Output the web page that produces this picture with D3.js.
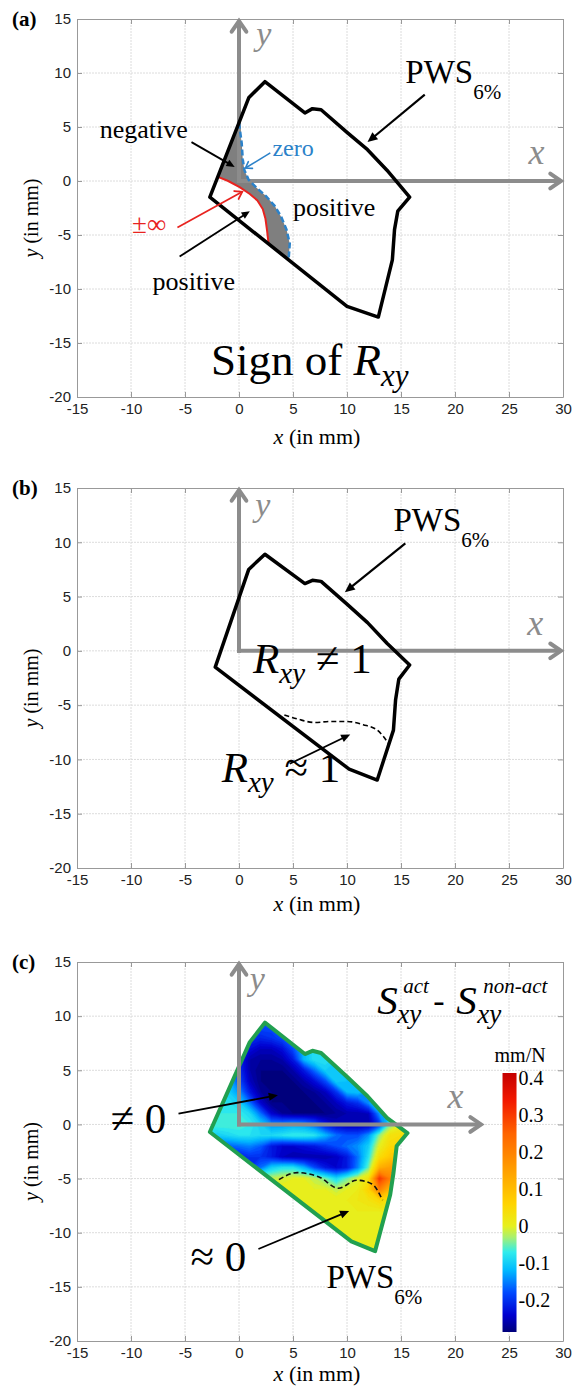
<!DOCTYPE html>
<html>
<head>
<meta charset="utf-8">
<script src="https://cdn.jsdelivr.net/npm/d3@7"></script>
<style>
  body { margin: 0; background: #fff; }
  svg text { font-family: "Liberation Serif", "Times New Roman", serif; }
  .tick text { font-family: "Liberation Sans", Arial, sans-serif; font-size: 15px; fill: #222; }
</style>
</head>
<body>
<svg id="fig" width="585" height="1395"></svg>
<script>
// ---- data (mm) ----
const xTicks = [-15, -10, -5, 0, 5, 10, 15, 20, 25, 30];
const yTicks = [-20, -15, -10, -5, 0, 5, 10, 15];

// PWS 6% outline as drawn in each panel
const pwsA = [[2.4,9.2],[6.1,6.3],[6.8,6.7],[7.6,6.6],[10.0,4.5],[11.9,2.9],[13.7,1.0],[15.8,-1.5],[14.7,-2.8],[14.4,-4.5],[14.2,-7.3],[12.9,-12.6],[10.0,-11.6],[-2.7,-1.5],[0.9,7.7]];
const pwsB = [[2.4,8.9],[6.1,6.2],[6.8,6.5],[7.6,6.4],[10.0,4.3],[11.9,2.6],[13.7,0.7],[15.8,-1.3],[14.8,-2.6],[14.5,-4.5],[14.3,-7.3],[12.8,-11.9],[10.2,-10.9],[-2.2,-1.5],[0.9,7.5]];
const pwsC = [[2.4,9.4],[6.1,6.5],[6.8,6.8],[7.6,6.6],[10.0,4.4],[11.9,2.6],[13.7,0.6],[15.6,-0.8],[14.6,-2.0],[14.3,-4.5],[14.0,-6.5],[12.6,-11.7],[10.4,-10.8],[-2.7,-0.7],[1.0,7.6]];

// panel (a): R_xy = 0 curve and R_xy = ±inf curve
const zeroCurve = [[0.0,5.4],[0.25,3.5],[0.35,2.0],[0.5,1.0],[0.9,0.1],[1.6,-0.6],[2.5,-1.4],[3.3,-2.3],[3.9,-3.3],[4.4,-4.5],[4.7,-5.8],[4.6,-7.2]];
const infCurve = [[-2.0,0.4],[-1.0,0.0],[0.1,-0.6],[1.0,-1.2],[1.7,-1.8],[2.2,-2.6],[2.45,-3.5],[2.6,-4.6],[2.75,-5.9]];

// panel (b): R_xy ~ 1 boundary, panel (c): S_xy difference ~ 0 boundary
const rOneCurve = [[4.2,-5.9],[5.5,-6.3],[7.0,-6.6],[8.5,-6.5],[10.0,-6.5],[11.5,-6.8],[12.8,-7.3],[13.9,-8.6]];
const sZeroCurve = [[3.7,-5.1],[5.4,-4.45],[7.5,-4.9],[9.2,-5.9],[10.9,-5.15],[12.3,-5.5],[13.3,-7.0]];

// S_xy(act) - S_xy(non-act), mm/N, read every 1 mm: x = -3..16, y = 10..-13
const sxyX = [-3,-2,-1,0,1,2,3,4,5,6,7,8,9,10,11,12,13,14,15,16];
const sxyY = [10,9,8,7,6,5,4,3,2,1,0,-1,-2,-3,-4,-5,-6,-7,-8,-9,-10,-11,-12,-13];
const sxyRows = [
  [-.20,-.20,-.20,-.20,-.20,-.19,-.19,-.19,-.20,-.20,-.20,-.20,-.20,-.20,-.20,-.20,-.20,-.20,-.20,-.20],
  [-.16,-.16,-.16,-.17,-.19,-.18,-.18,-.18,-.18,-.18,-.18,-.20,-.20,-.20,-.20,-.20,-.20,-.20,-.20,-.20],
  [-.14,-.14,-.14,-.17,-.20,-.21,-.20,-.18,-.15,-.12,-.10,-.12,-.18,-.20,-.20,-.20,-.20,-.20,-.20,-.20],
  [-.13,-.13,-.13,-.18,-.23,-.25,-.25,-.23,-.18,-.12,-.08, .10,-.08,-.16,-.20,-.20,-.20,-.20,-.20,-.20],
  [-.12,-.12,-.14,-.21,-.26,-.27,-.27,-.26,-.22,-.12,-.08,-.08,-.10,-.16,-.20,-.20,-.20,-.20,-.20,-.20],
  [-.11,-.11,-.13,-.20,-.26,-.28,-.28,-.28,-.26,-.22,-.16,-.10,-.10,-.14,-.19,-.20,-.20,-.20,-.20,-.20],
  [-.10,-.10,-.12,-.18,-.25,-.28,-.28,-.28,-.28,-.26,-.23,-.18,-.10,-.11,-.14,-.19,-.19,-.19,-.19,-.19],
  [-.09,-.09,-.10,-.14,-.22,-.27,-.28,-.28,-.28,-.28,-.27,-.25,-.20,-.12,-.11,-.14,-.19,-.19,-.19,-.19],
  [-.08,-.08,-.08,-.10,-.16,-.24,-.28,-.28,-.28,-.28,-.28,-.27,-.25,-.22,-.20,-.14,-.12,-.20,-.20,-.20],
  [-.07,-.07,-.07,-.07,-.09,-.16,-.24,-.27,-.28,-.28,-.28,-.28,-.27,-.26,-.26,-.25,-.14,-.12,-.12,-.12],
  [-.06,-.06,-.06,-.06,-.07,-.10,-.14,-.14,-.13,-.14,-.17,-.22,-.25,-.26,-.26,-.26,-.20,-.05, .00, .00],
  [-.10,-.10,-.09,-.08,-.08,-.09,-.09,-.08,-.07,-.07,-.08,-.12,-.16,-.18,-.18,-.14,-.04, .03, .04, .04],
  [-.18,-.18,-.17,-.16,-.15,-.17,-.22,-.24,-.24,-.23,-.22,-.20,-.18,-.16,-.14,-.10, .00, .05, .05, .05],
  [-.22,-.22,-.22,-.22,-.20,-.20,-.22,-.25,-.26,-.26,-.26,-.26,-.25,-.22,-.16,-.08, .04, .08, .08, .08],
  [-.22,-.22,-.22,-.22,-.20,-.16,-.10,-.08,-.08,-.12,-.18,-.22,-.24,-.22,-.15,-.05, .12, .15, .15, .15],
  [-.06,-.06,-.06,-.06,-.05,-.03,-.02,-.01, .00, .00,-.02,-.05,-.09,-.05,-.01, .03, .30, .20, .18, .18],
  [ .00, .00, .00, .00, .00, .00, .01, .01, .01, .01, .00, .00,-.02, .00, .01, .06, .20, .10, .08, .08],
  [ .01, .01, .01, .01, .01, .01, .01, .01, .01, .01, .01, .01, .01, .01, .02, .03, .05, .03, .02, .02],
  [ .01, .01, .01, .01, .01, .01, .01, .01, .01, .01, .01, .01, .01, .01, .01, .01, .01, .01, .01, .01],
  [ .01, .01, .01, .01, .01, .01, .01, .01, .01, .01, .01, .01, .01, .01, .01, .01, .01, .01, .01, .01],
  [ .01, .01, .01, .01, .01, .01, .01, .01, .01, .01, .01, .01, .01, .01, .01, .01, .01, .01, .01, .01],
  [ .01, .01, .01, .01, .01, .01, .01, .01, .01, .01, .01, .01, .01, .01, .01, .01, .01, .01, .01, .01],
  [ .01, .01, .01, .01, .01, .01, .01, .01, .01, .01, .01, .01, .01, .01, .01, .01, .01, .01, .01, .01],
  [ .01, .01, .01, .01, .01, .01, .01, .01, .01, .01, .01, .01, .01, .01, .01, .01, .01, .01, .01, .01]
];

const cbTicks = [-0.2, -0.1, 0, 0.1, 0.2, 0.3, 0.4];
const cbStops = [-0.286, -0.24, -0.18, -0.12, -0.07, -0.03, 0.0, 0.06, 0.15, 0.25, 0.34, 0.414];
const cbColors = ["#00007a", "#0000d0", "#0048ff", "#00b8ff", "#30ecec", "#a8f070", "#e6f01e", "#ffd400", "#ffa000", "#ff6400", "#f21800", "#c40000"];

// ---- layout ----
const svg = d3.select("#fig");
const defs = svg.append("defs");
const X0 = 77, X1 = 563;
const panels = {
    a: { top: 19, bottom: 397, xlab: 444 },
    b: { top: 488, bottom: 868, xlab: 911 },
    c: { top: 962, bottom: 1341, xlab: 1381 }
};
const axisGrey = "#8c8c8c";
const num = d => String(d);   // plain hyphen minus, as in the original

// Axes box, grid, ticks and labels in the MATLAB style
function frame(key) {
    const p = panels[key];
    const x = d3.scaleLinear().domain([-15, 30]).range([X0, X1]);
    const y = d3.scaleLinear().domain([-20, 15]).range([p.bottom, p.top]);
    const g = svg.append("g");

    // grid
    g.append("g").selectAll("line").data(xTicks.slice(1, -1)).join("line")
        .attr("x1", d => x(d)).attr("x2", d => x(d))
        .attr("y1", p.top).attr("y2", p.bottom)
        .attr("stroke", "#dcdcdc").attr("stroke-dasharray", "2,1");
    g.append("g").selectAll("line").data(yTicks.slice(1, -1)).join("line")
        .attr("x1", X0).attr("x2", X1)
        .attr("y1", d => y(d)).attr("y2", d => y(d))
        .attr("stroke", "#dcdcdc").attr("stroke-dasharray", "2,1");

    // axes
    const bottom = g.append("g").attr("transform", `translate(0,${p.bottom})`)
        .call(d3.axisBottom(x).tickValues(xTicks).tickFormat(num).tickSize(-5).tickSizeOuter(0).tickPadding(9));
    const left = g.append("g").attr("transform", `translate(${X0},0)`)
        .call(d3.axisLeft(y).tickValues(yTicks).tickFormat(num).tickSize(-5).tickSizeOuter(0).tickPadding(5));
    g.append("g").attr("transform", `translate(0,${p.top})`)
        .call(d3.axisTop(x).tickValues(xTicks).tickSize(-5).tickSizeOuter(0).tickFormat(""));
    g.append("g").attr("transform", `translate(${X1},0)`)
        .call(d3.axisRight(y).tickValues(yTicks).tickSize(-5).tickSizeOuter(0).tickFormat(""));
    g.selectAll(".domain, .tick line").attr("stroke", "#999");
    g.selectAll(".tick text").attr("font-size", null).attr("font-family", null);
    bottom.selectAll(".tick text").attr("dy", "0.55em");
    left.selectAll(".tick text").attr("dx", "-1px");

    // axis titles
    g.append("text")
        .attr("x", (X0 + X1) / 2 - 3).attr("y", p.xlab)
        .attr("text-anchor", "middle").attr("font-size", 22)
        .html('<tspan font-style="italic">x</tspan> (in mm)');
    g.append("text")
        .attr("transform", `translate(38,${(p.top + p.bottom) / 2 + 10}) rotate(-90)`)
        .attr("text-anchor", "middle").attr("font-size", 20)
        .html('<tspan font-style="italic">y</tspan> (in mm)');

    // panel letter
    g.append("text")
        .attr("x", 12).attr("y", p.top + 7)
        .attr("font-size", 21).attr("font-weight", "bold")
        .text("(" + key + ")");

    return { g, x, y };
}

// straight line with arrow head at p2; the head is filled or an open chevron
function arrow(g, p1, p2, color, width, head, filled) {
    const ang = Math.atan2(p2[1] - p1[1], p2[0] - p1[0]);
    const spread = filled ? 0.42 : 0.6;
    const a = [p2[0] - head * Math.cos(ang - spread), p2[1] - head * Math.sin(ang - spread)];
    const b = [p2[0] - head * Math.cos(ang + spread), p2[1] - head * Math.sin(ang + spread)];
    if (filled) {
        const back = [p2[0] - head * 0.8 * Math.cos(ang), p2[1] - head * 0.8 * Math.sin(ang)];
        g.append("line").attr("x1", p1[0]).attr("y1", p1[1]).attr("x2", back[0]).attr("y2", back[1])
            .attr("stroke", color).attr("stroke-width", width);
        g.append("path").attr("d", d3.line()([p2, a, b])).attr("fill", color);
    } else {
        g.append("line").attr("x1", p1[0]).attr("y1", p1[1]).attr("x2", p2[0]).attr("y2", p2[1])
            .attr("stroke", color).attr("stroke-width", width);
        g.append("path").attr("d", d3.line()([a, p2, b]))
            .attr("fill", "none").attr("stroke", color).attr("stroke-width", width)
            .attr("stroke-linejoin", "miter").attr("stroke-linecap", "round");
    }
}

// the gray local x / y frame drawn inside each axes
function localAxes(f, xEnd, yLabel, xLabel) {
    const { g, x, y } = f;
    arrow(g, [x(0), y(0) + 2], [x(0), y(15) + 2], axisGrey, 4, 13, false);
    arrow(g, [x(0) - 2, y(0)], [x(xEnd) - 2, y(0)], axisGrey, 4, 13, false);
    g.append("text").attr("x", x(yLabel[0])).attr("y", y(yLabel[1]))
        .attr("font-size", 34).attr("font-style", "italic").attr("fill", axisGrey).text("y");
    g.append("text").attr("x", x(xLabel[0])).attr("y", y(xLabel[1]))
        .attr("font-size", 36).attr("font-style", "italic").attr("fill", axisGrey).text("x");
}

function outline(f, pts, color, width) {
    const line = d3.line().x(d => f.x(d[0])).y(d => f.y(d[1])).curve(d3.curveLinearClosed);
    f.g.append("path").attr("d", line(pts))
        .attr("fill", "none").attr("stroke", color).attr("stroke-width", width)
        .attr("stroke-linejoin", "round");
}

function pwsLabel(f, at) {
    const t = f.g.append("text").attr("x", f.x(at[0])).attr("y", f.y(at[1])).attr("font-size", 33);
    t.append("tspan").text("PWS");
    t.append("tspan").attr("font-size", 21).attr("dy", 16).text("6%");
}

// R_xy followed by a relation
function rxyLabel(f, at, rel) {
    const size = 43;
    const t = f.g.append("text").attr("x", f.x(at[0])).attr("y", f.y(at[1])).attr("font-size", size);
    t.append("tspan").attr("font-style", "italic").text("R");
    t.append("tspan").attr("font-style", "italic").attr("font-size", 29).attr("dy", 10).text("xy");
    t.append("tspan").attr("dy", -10).text(rel);
}

const toPx = (f, p) => [f.x(p[0]), f.y(p[1])];

// ================= panel (a) =================
const fa = frame("a");
{
    const { g, x, y } = fa;
    const line = d3.line().x(d => x(d[0])).y(d => y(d[1]));
    // negative region: between the zero curve and the infinity curve
    g.append("path")
        .attr("d", line(zeroCurve.concat(infCurve.slice().reverse())) + "Z")
        .attr("fill", "#7f7f7f");
    localAxes(fa, 30, [1.6, 12.6], [26.8, 1.6]);
    g.append("path").attr("d", line(infCurve))
        .attr("fill", "none").attr("stroke", "#e8231f").attr("stroke-width", 2);
    g.append("path").attr("d", line(zeroCurve))
        .attr("fill", "none").attr("stroke", "#2c82c9").attr("stroke-width", 2.5)
        .attr("stroke-dasharray", "6,3");
    outline(fa, pwsA, "#000", 3.5);

    pwsLabel(fa, [15.4, 9.1]);
    arrow(g, toPx(fa, [17.2, 8.0]), toPx(fa, [11.9, 3.6]), "#000", 2.2, 11, true);

    g.append("text").attr("x", x(-12.9)).attr("y", y(4.0)).attr("font-size", 26).text("negative");
    arrow(g, toPx(fa, [-4.4, 3.6]), toPx(fa, [-0.4, 1.3]), "#000", 1.8, 9, true);

    g.append("text").attr("x", x(3.1)).attr("y", y(2.3)).attr("font-size", 24).attr("fill", "#2c82c9").text("zero");
    arrow(g, toPx(fa, [2.9, 2.6]), toPx(fa, [0.6, 1.2]), "#2c82c9", 1.6, 7, false);

    g.append("text").attr("x", x(-9.9)).attr("y", y(-4.8)).attr("font-size", 27).attr("fill", "#e8231f").text("\u00b1\u221e");
    arrow(g, toPx(fa, [-5.7, -4.3]), toPx(fa, [0.3, -1.0]), "#e8231f", 1.8, 8, false);

    g.append("text").attr("x", x(5.0)).attr("y", y(-3.2)).attr("font-size", 26).text("positive");
    g.append("text").attr("x", x(-8.0)).attr("y", y(-10.1)).attr("font-size", 26).text("positive");
    arrow(g, toPx(fa, [-5.5, -7.0]), toPx(fa, [1.0, -2.8]), "#000", 1.8, 9, true);

    const t = g.append("text").attr("x", x(-2.6)).attr("y", y(-18.0)).attr("font-size", 45);
    t.append("tspan").text("Sign of ");
    t.append("tspan").attr("font-style", "italic").text("R");
    t.append("tspan").attr("font-style", "italic").attr("font-size", 31).attr("dy", 11).text("xy");
}

// ================= panel (b) =================
const fb = frame("b");
{
    const { g, x, y } = fb;
    localAxes(fb, 30, [1.5, 12.4], [26.7, 1.5]);
    outline(fb, pwsB, "#000", 3.5);
    g.append("path").attr("d", d3.line().x(d => x(d[0])).y(d => y(d[1])).curve(d3.curveMonotoneX)(rOneCurve))
        .attr("fill", "none").attr("stroke", "#000").attr("stroke-width", 1.6).attr("stroke-dasharray", "5,3");
    pwsLabel(fb, [14.3, 11.0]);
    arrow(g, toPx(fb, [15.4, 9.9]), toPx(fb, [9.8, 5.4]), "#000", 2.2, 11, true);
    rxyLabel(fb, [1.3, -2.0], " \u2260 1");
    rxyLabel(fb, [-1.6, -12.1], " \u2248 1");
    arrow(g, toPx(fb, [4.7, -10.4]), toPx(fb, [10.3, -7.7]), "#000", 1.8, 10, true);
}

// ================= panel (c) =================
const fc = frame("c");
{
    const { g, x, y } = fc;
    const color = d3.scaleLinear().domain(cbStops).range(cbColors).clamp(true);

    // heat map inside the PWS outline, filled contour bands of the sampled grid
    const n = sxyX.length, m = sxyY.length;
    const values = sxyRows.flat();
    const step = sxyX[1] - sxyX[0];
    const thresholds = d3.range(-0.30, 0.42, 0.01);
    const proj = d3.geoTransform({
        point: function(px, py) {
            this.stream.point(x(sxyX[0] + (px - 0.5) * step), y(sxyY[0] - (py - 0.5) * step));
        }
    });
    const path = d3.geoPath(proj);
    const clipLine = d3.line().x(d => x(d[0])).y(d => y(d[1])).curve(d3.curveLinearClosed);
    defs.append("clipPath").attr("id", "pwsClip")
        .append("path").attr("d", clipLine(pwsC));
    g.append("g").attr("clip-path", "url(#pwsClip)")
        .selectAll("path")
        .data(d3.contours().size([n, m]).thresholds(thresholds)(values))
        .join("path")
        .attr("d", path)
        .attr("fill", d => color(d.value + 0.005))
        .attr("stroke", d => color(d.value + 0.005)).attr("stroke-width", 0.6);

    g.append("path").attr("d", d3.line().x(d => x(d[0])).y(d => y(d[1])).curve(d3.curveMonotoneX)(sZeroCurve))
        .attr("fill", "none").attr("stroke", "#111").attr("stroke-width", 1.6).attr("stroke-dasharray", "5,3");
    outline(fc, pwsC, "#21a050", 4);
    localAxes(fc, 22.6, [1.0, 12.4], [19.3, 1.5]);

    // labels
    g.append("text").attr("x", x(-11.9)).attr("y", y(-0.8)).attr("font-size", 43).text("\u2260 0");
    arrow(g, toPx(fc, [-5.6, 1.0]), toPx(fc, [3.6, 2.7]), "#000", 1.8, 10, true);
    g.append("text").attr("x", x(-4.5)).attr("y", y(-13.5)).attr("font-size", 43).text("\u2248 0");
    arrow(g, toPx(fc, [1.8, -11.5]), toPx(fc, [10.2, -8.0]), "#000", 1.8, 10, true);
    pwsLabel(fc, [8.1, -15.1]);

    // S_xy^act - S_xy^non-act
    const sx = x(12.8), sy = y(10.2);
    const s = g.append("g").attr("font-style", "italic");
    s.append("text").attr("x", sx).attr("y", sy).attr("font-size", 41).text("S");
    s.append("text").attr("x", sx + 26).attr("y", sy - 21).attr("font-size", 21).text("act");
    s.append("text").attr("x", sx + 20).attr("y", sy + 9).attr("font-size", 27).text("xy");
    g.append("text").attr("x", sx + 56).attr("y", sy - 2).attr("font-size", 34).text("-");
    s.append("text").attr("x", sx + 79).attr("y", sy).attr("font-size", 41).text("S");
    s.append("text").attr("x", sx + 106).attr("y", sy - 21).attr("font-size", 21).text("non-act");
    s.append("text").attr("x", sx + 100).attr("y", sy + 9).attr("font-size", 27).text("xy");

    // colour bar
    const cbX = x(24.4), cbW = 14;
    const cb = d3.scaleLinear().domain([-0.286, 0.414]).range([1332, 1073]);
    const grad = defs.append("linearGradient").attr("id", "cbGrad")
        .attr("x1", 0).attr("y1", 1).attr("x2", 0).attr("y2", 0);
    grad.selectAll("stop").data(cbStops).join("stop")
        .attr("offset", d => (d - cbStops[0]) / (cbStops[cbStops.length - 1] - cbStops[0]))
        .attr("stop-color", (d, i) => cbColors[i]);
    g.append("rect").attr("x", cbX).attr("y", cb.range()[1]).attr("width", cbW)
        .attr("height", cb.range()[0] - cb.range()[1]).attr("fill", "url(#cbGrad)");
    g.append("g").selectAll("text").data(cbTicks).join("text")
        .attr("x", cbX + cbW + 2).attr("y", d => cb(d)).attr("dy", "0.35em")
        .attr("font-size", 20).text(num);
    g.append("text").attr("x", cbX - 8).attr("y", 1062).attr("font-size", 20).text("mm/N");
}
</script>
</body>
</html>
